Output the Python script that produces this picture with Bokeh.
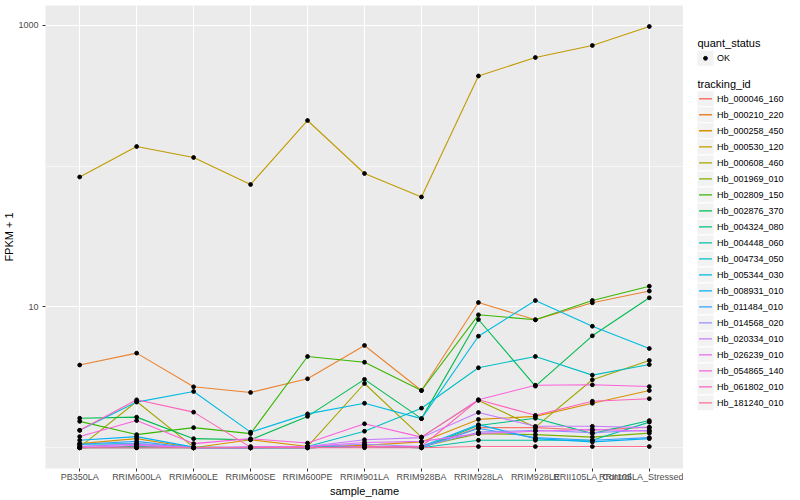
from bokeh.plotting import figure
from bokeh.models import FactorRange, Range1d, FixedTicker, PrintfTickFormatter
from bokeh.layouts import row
from bokeh.embed import file_html
from bokeh.resources import INLINE
from bokeh.core.properties import value

# ---------------- data ----------------
samples = ["PB350LA", "RRIM600LA", "RRIM600LE", "RRIM600SE", "RRIM600PE",
           "RRIM901LA", "RRIM928BA", "RRIM928LA", "RRIM928LE",
           "RRII105LA_Control", "RRII105LA_Stressed"]

tracking_ids = ["Hb_000046_160", "Hb_000210_220", "Hb_000258_450", "Hb_000530_120",
                "Hb_000608_460", "Hb_001969_010", "Hb_002809_150", "Hb_002876_370",
                "Hb_004324_080", "Hb_004448_060", "Hb_004734_050", "Hb_005344_030",
                "Hb_008931_010", "Hb_011484_010", "Hb_014568_020", "Hb_020334_010",
                "Hb_026239_010", "Hb_054865_140", "Hb_061802_010", "Hb_181240_010"]

colors = ["#F8766D", "#EA8331", "#D89000", "#C09B00", "#A3A500", "#7CAE00", "#39B600",
          "#00BB4E", "#00BF7D", "#00C1A3", "#00BFC4", "#00BAE0", "#00B0F6", "#35A2FF",
          "#9590FF", "#C77CFF", "#E76BF3", "#FA62DB", "#FF62BC", "#FF6C91"]

quant_status = ["OK"]

# FPKM + 1 per sample (order of `samples`)
hb_000046_160 = [1.00, 1.00, 1.00, 1.00, 1.00, 1.02, 1.00, 1.39, 1.39, 1.33, 1.40]
hb_000210_220 = [3.87, 4.70, 2.71, 2.47, 3.09, 5.33, 2.55, 10.76, 8.11, 10.71, 12.99]
hb_000258_450 = [1.07, 1.16, 1.00, 1.14, 1.02, 1.04, 1.10, 1.59, 1.67, 2.07, 2.55]
hb_000530_120 = [83.9, 138.1, 115.4, 74.2, 211.4, 88.8, 60.5, 437.7, 592.4, 721.2, 983.8]
hb_000608_460 = [1.01, 2.13, 1.01, 1.00, 1.02, 2.86, 1.19, 2.17, 1.40, 3.04, 4.17]
hb_001969_010 = [1.00, 1.02, 1.00, 1.00, 1.00, 1.02, 1.02, 1.26, 1.24, 1.19, 1.27]
hb_002809_150 = [1.54, 1.24, 1.39, 1.26, 4.45, 4.05, 2.55, 8.80, 8.11, 11.12, 14.05]
hb_002876_370 = [1.62, 1.65, 1.16, 1.14, 1.67, 3.06, 1.61, 8.15, 2.74, 6.24, 11.62]
hb_004324_080 = [1.00, 1.02, 1.00, 1.00, 1.02, 1.02, 1.00, 1.44, 1.62, 1.26, 1.56]
hb_004448_060 = [1.00, 1.00, 1.00, 1.00, 1.00, 1.02, 1.00, 1.13, 1.13, 1.13, 1.52]
hb_004734_050 = [1.06, 1.07, 1.00, 1.00, 1.02, 1.31, 1.91, 3.70, 4.45, 3.28, 3.90]
hb_005344_030 = [1.33, 2.11, 2.51, 1.29, 1.74, 2.07, 1.61, 6.20, 11.12, 7.30, 5.07]
hb_008931_010 = [1.13, 1.20, 1.01, 1.00, 1.00, 1.02, 1.02, 1.46, 1.16, 1.10, 1.16]
hb_011484_010 = [1.06, 1.11, 1.00, 1.00, 1.00, 1.02, 1.00, 1.37, 1.18, 1.13, 1.18]
hb_014568_020 = [1.02, 1.07, 1.00, 1.00, 1.02, 1.06, 1.02, 1.29, 1.33, 1.28, 1.33]
hb_020334_010 = [1.02, 1.06, 1.00, 1.02, 1.02, 1.14, 1.18, 1.78, 1.42, 1.42, 1.39]
hb_026239_010 = [1.00, 1.04, 1.00, 1.00, 1.02, 1.09, 1.11, 1.26, 1.31, 1.35, 1.31]
hb_054865_140 = [1.20, 1.56, 1.07, 1.16, 1.08, 1.48, 1.19, 2.19, 2.78, 2.80, 2.72]
hb_061802_010 = [1.33, 2.19, 1.79, 1.01, 1.00, 1.02, 1.02, 2.19, 1.70, 2.14, 2.23]
hb_181240_010 = [1.00, 1.00, 1.00, 1.00, 1.00, 1.00, 1.00, 1.02, 1.02, 1.02, 1.02]

series = [hb_000046_160, hb_000210_220, hb_000258_450, hb_000530_120, hb_000608_460,
          hb_001969_010, hb_002809_150, hb_002876_370, hb_004324_080, hb_004448_060,
          hb_004734_050, hb_005344_030, hb_008931_010, hb_011484_010, hb_014568_020,
          hb_020334_010, hb_026239_010, hb_054865_140, hb_061802_010, hb_181240_010]

y_major_ticks = [10, 1000]
y_minor_ticks = [1, 100]

# ---------------- main plot ----------------
FONT = "Liberation Sans"
H = 500
LEFT, TOP, FW, FH = 45, 5, 638, 463

p = figure(
    x_range=FactorRange(factors=samples, range_padding=0.1, range_padding_units="absolute"),
    y_axis_type="log", y_range=Range1d(0.712, 1387),
    frame_width=FW, frame_height=FH,
    min_border_left=LEFT, min_border_right=0, min_border_top=TOP,
    min_border_bottom=H - TOP - FH,
    output_backend="svg", toolbar_location=None,
    background_fill_color="#EBEBEB", border_fill_color="white", outline_line_color=None,
)

for vals, c in zip(series, colors):
    p.line(x=samples, y=vals, line_color=c, line_width=1.1)

all_x = [s for _ in series for s in samples]
all_y = [v for vals in series for v in vals]
p.scatter(x=all_x, y=all_y, size=3.8, marker="circle", fill_color="black", line_color="black")

p.yaxis.ticker = FixedTicker(ticks=y_major_ticks, minor_ticks=y_minor_ticks)
p.yaxis.formatter = PrintfTickFormatter(format="%d")

p.xgrid.grid_line_color = "white"
p.xgrid.grid_line_width = 1.1
p.ygrid.grid_line_color = "white"
p.ygrid.grid_line_width = 1.1
p.ygrid.minor_grid_line_color = "white"
p.ygrid.minor_grid_line_width = 0.55

for ax in (p.xaxis[0], p.yaxis[0]):
    ax.axis_line_color = None
    ax.major_tick_line_color = "#333333"
    ax.major_tick_in = 0
    ax.major_tick_out = 3
    ax.minor_tick_line_color = None
    ax.major_label_text_font = FONT
    ax.major_label_text_font_size = "9px"
    ax.major_label_text_color = "#4D4D4D"
    ax.axis_label_text_font = FONT
    ax.axis_label_text_font_size = "11px"
    ax.axis_label_text_font_style = "normal"
    ax.axis_label_text_color = "black"
    ax.axis_label_standoff = 0

p.xaxis.major_label_standoff = 0
p.yaxis.major_label_standoff = 3
p.xaxis.axis_label = "sample_name"
p.yaxis.axis_label = "FPKM + 1"

# ---------------- legend panel ----------------
X0, X1 = LEFT + FW, 800
lg = figure(width=X1 - X0, height=H, x_range=Range1d(X0, X1), y_range=Range1d(H, 0),
            output_backend="svg", toolbar_location=None, min_border=0,
            outline_line_color=None, background_fill_color="white", border_fill_color="white")
lg.axis.visible = False
lg.grid.visible = False

key_x = 705
lg.text(x=[697], y=[40.5], text=["quant_status"], text_font=value(FONT),
        text_font_size="11px", text_baseline="middle", text_color="black")
lg.rect(x=[key_x], y=[57], width=16, height=16, fill_color="#F2F2F2", line_color=None)
lg.scatter(x=[key_x], y=[57], size=3.8, marker="circle", fill_color="black", line_color="black")
lg.text(x=[716.5], y=[57], text=quant_status, text_font=value(FONT),
        text_font_size="9px", text_baseline="middle", text_color="black")

lg.text(x=[697], y=[84.5], text=["tracking_id"], text_font=value(FONT),
        text_font_size="11px", text_baseline="middle", text_color="black")
ky = [100.7 + i * 17.29 for i in range(len(tracking_ids))]
lg.rect(x=[key_x] * len(ky), y=ky, width=16, height=16, fill_color="#F2F2F2", line_color=None)
lg.segment(x0=[698.5] * len(ky), y0=ky, x1=[711.5] * len(ky), y1=ky, line_color=colors, line_width=1.3)
lg.text(x=[716.5] * len(ky), y=ky, text=tracking_ids, text_font=value(FONT),
        text_font_size="9px", text_baseline="middle", text_color="black")

layout = row(p, lg)
open("out.html", "w").write(file_html(layout, INLINE))
